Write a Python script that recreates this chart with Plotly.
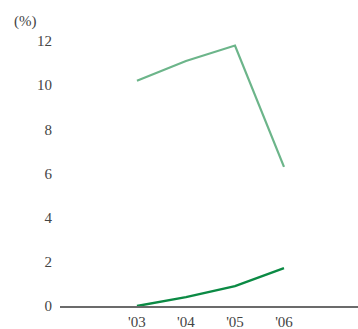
import plotly.graph_objects as go

years = ["'03", "'04", "'05", "'06"]
light_series = [10.2, 11.1, 11.8, 6.3]
dark_series = [0.0, 0.4, 0.9, 1.72]
y_ticks = [0, 2, 4, 6, 8, 10, 12]

font_family = "Liberation Serif, DejaVu Serif, serif"
text_color = "#444444"
font_size = 15

# plot area geometry (pixels)
W, H = 358, 329
M_L, M_R, M_T, M_B = 60, 0, 19, 23

fig = go.Figure()
fig.add_trace(go.Scatter(
    x=years, y=light_series, mode="lines",
    line=dict(color="#6cb58a", width=2.2), hoverinfo="skip",
))
fig.add_trace(go.Scatter(
    x=years, y=dark_series, mode="lines",
    line=dict(color="#0b8a44", width=2.4), hoverinfo="skip",
))

plot_w = W - M_L - M_R
plot_h = H - M_T - M_B

fig.update_layout(
    width=W, height=H,
    margin=dict(l=M_L, r=M_R, t=M_T, b=M_B),
    paper_bgcolor="white", plot_bgcolor="white",
    showlegend=False,
    font=dict(family=font_family, size=font_size, color=text_color),
    xaxis=dict(
        type="category", range=[-1.57, 4.51],
        showgrid=False, zeroline=False,
        showline=True, linecolor="#6b6b6b", linewidth=1.6,
        ticks="", ticklabelstandoff=1,
        tickfont=dict(family=font_family, size=font_size, color=text_color),
    ),
    yaxis=dict(
        range=[0, 13], tickvals=y_ticks,
        showgrid=False, zeroline=False, showline=False,
        ticks="", ticklabelstandoff=7,
        tickfont=dict(family=font_family, size=font_size, color=text_color),
    ),
    annotations=[dict(
        text="(%)",
        x=(12 - M_L) / plot_w, y=(H - 21 - M_B) / plot_h,
        xref="paper", yref="paper",
        showarrow=False, xanchor="left", yanchor="middle",
        font=dict(family=font_family, size=font_size, color=text_color),
    )],
)

fig.write_html("out.html")
